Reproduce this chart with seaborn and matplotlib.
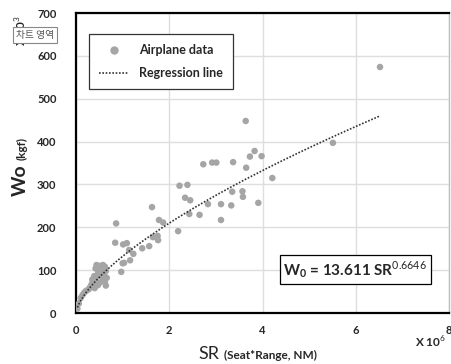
import numpy as np
import pandas as pd
import matplotlib
matplotlib.use("Agg")
import matplotlib.pyplot as plt
import seaborn as sns
from matplotlib.lines import Line2D

# SR in 10^6 seat*NM, Wo in 10^3 kgf
sr_values = [6.52, 5.51, 4.21, 3.98, 3.83, 3.73, 3.65, 3.64, 3.57, 3.58, 3.91, 3.37,
             3.35, 3.33, 3.11, 3.11, 3.01, 2.92, 2.73, 2.83, 2.65, 2.43, 2.45, 2.34,
             2.39, 2.22, 2.19, 1.87, 1.78, 1.63, 1.75, 1.76, 1.65, 1.57, 1.42, 1.23,
             1.16, 1.14, 1.09, 1.01, 0.86, 0.84, 0.97, 1.00, 1.03,
             0.03, 0.06, 0.10, 0.14, 0.18, 0.22, 0.27, 0.30, 0.33, 0.36, 0.38, 0.40,
             0.42, 0.45, 0.48, 0.50, 0.44, 0.52, 0.58, 0.62, 0.64, 0.60, 0.55, 0.66,
             0.62, 0.57, 0.50, 0.47, 0.64, 0.55, 0.42, 0.35, 0.39]
wo_values = [574, 397, 315, 366, 378, 365, 339, 448, 284, 271, 257, 352,
             283, 251, 254, 217, 351, 351, 347, 254, 229, 231, 263, 269,
             299, 297, 191, 211, 217, 247, 180, 170, 177, 156, 151, 138,
             123, 147, 163, 160, 209, 164, 96, 116, 117,
             10, 22, 35, 42, 48, 52, 55, 60, 66, 72, 62, 58,
             80, 88, 95, 104, 112, 110, 112, 108, 98, 90, 85, 82,
             72, 76, 70, 65, 64, 100, 104, 78, 86]

# regression W0 = 13.611 SR^0.6646 (SR in seat*NM, W0 in kgf)
coef_a = 13.611
coef_b = 0.6646

x_ticks = [0, 2, 4, 6, 8]
y_ticks = [0, 100, 200, 300, 400, 500, 600, 700]

df = pd.DataFrame({"SR": sr_values, "Wo": wo_values})
sr_line = np.linspace(min(sr_values), max(sr_values), 200)
fit = pd.DataFrame({"SR": sr_line,
                    "Wo": coef_a * (sr_line * 1e6) ** coef_b / 1e3})

sns.set_style("white")
plt.rcParams['font.family'] = ['Lato', 'DejaVu Sans']
plt.rcParams['mathtext.fontset'] = 'custom'
plt.rcParams['mathtext.rm'] = 'Lato'
plt.rcParams['mathtext.bf'] = 'Lato:bold'

fig = plt.figure(figsize=(4.52, 3.64), dpi=100)
ax = fig.add_axes([76/452, 51/364, 373/452, 300/364])

sns.scatterplot(x="SR", y="Wo", data=df, color="#a5a5a5", s=22,
                edgecolor="none", ax=ax, zorder=3)
sns.lineplot(x="SR", y="Wo", data=fit, color="#333333", linestyle=(0, (1, 1)),
             linewidth=1.2, ax=ax, zorder=4)

ax.set_xlim(0, 8)
ax.set_ylim(0, 700)
ax.set_xticks(x_ticks)
ax.set_yticks(y_ticks)
ax.set_xticklabels([str(t) for t in x_ticks], fontweight="bold", fontsize=8)
ax.set_yticklabels([str(t) for t in y_ticks], fontweight="bold", fontsize=8)
ax.tick_params(axis="x", length=0, pad=9)
ax.tick_params(axis="y", length=0, pad=14)
ax.grid(True, color="#dedede", linewidth=1)
ax.set_axisbelow(True)
ax.set_xlabel("")
ax.set_ylabel("")
for side in ["left", "bottom", "top"]:
    ax.spines[side].set_color("black")
    ax.spines[side].set_linewidth(1.6)
ax.spines["right"].set_color("#bfbfbf")
ax.spines["right"].set_linewidth(1)

handles = [Line2D([], [], marker="o", color="#a5a5a5", linestyle="none", markersize=5),
           Line2D([], [], color="#333333", linestyle=(0, (1, 1)), linewidth=1.2)]
leg = ax.legend(handles, ["Airplane data", "Regression line"], loc="upper left",
                bbox_to_anchor=(0.035, 0.93), borderaxespad=0, fancybox=False,
                framealpha=1, edgecolor="#333333", prop={"weight": "bold", "size": 9},
                handlelength=2.4, borderpad=0.8, labelspacing=0.9)
leg.get_frame().set_linewidth(0.9)

ax.text(0.749, 0.145, r"$\mathbf{W_0}$" + " = 13.611 SR" + r"$^{0.6646}$",
        transform=ax.transAxes, ha="center", va="center", fontsize=11,
        fontweight="bold",
        bbox=dict(boxstyle="square,pad=0.25", facecolor="white", edgecolor="black",
                  linewidth=0.9), zorder=5)

# axis titles
fig.text(20/452, 1 - 180/364, "Wo", rotation=90, ha="center", va="center",
         fontsize=14, fontweight="bold")
fig.text(22/452, 1 - 148/364, "(kgf)", rotation=90, ha="center", va="center",
         fontsize=8.5, fontweight="bold")
fig.text(209/452, 1 - 354/364, "SR", ha="center", va="center", fontsize=13)
fig.text(224/452, 1 - 355/364, "(Seat*Range, NM)", ha="left", va="center",
         fontsize=8.5, fontweight="bold")
fig.text(430/452, 1 - 342/364, r"X 10$^{6}$", ha="center", va="center",
         fontsize=8.5, fontweight="bold")

# multiplier label, partly hidden by the Excel tooltip
fig.text(21/452, 1 - 31/364, r"X 10$^{3}$", rotation=90, ha="center", va="center",
         fontsize=8.5, fontweight="bold", zorder=1)
fig.text(35/452, 1 - 35/364, "차트 영역", ha="center", va="center", fontsize=7,
         color="#555555", family=["Noto Sans CJK KR", "DejaVu Sans"], zorder=10,
         bbox=dict(boxstyle="square,pad=0.3", facecolor="white", edgecolor="#888888",
                   linewidth=0.8))

fig.savefig("out.png", dpi=100)
